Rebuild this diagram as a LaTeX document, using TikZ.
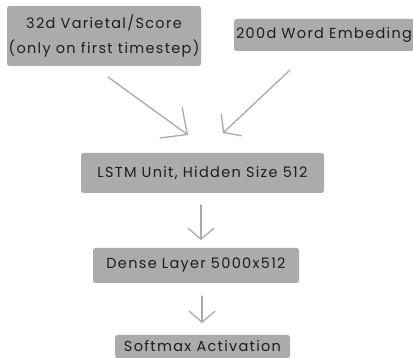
\documentclass[tikz,border=0pt]{standalone}
\usepackage{fontspec}
\setmainfont[LetterSpace=9]{Poppins}
\usetikzlibrary{arrows.meta}
\definecolor{boxgray}{HTML}{ABABAB}
\definecolor{arrowgray}{HTML}{A9A9A9}
\definecolor{textdark}{HTML}{1E1E1E}
\tikzset{
	layer/.style={fill=boxgray, rounded corners=2.5pt, inner sep=0pt, text=textdark, align=center,
		font=\fontsize{14.5}{25}\selectfont},
	flow/.style={draw=arrowgray, line width=1.3pt, line cap=round,
		-{Straight Barb[length=20pt, width=38pt, line width=1.3pt]}},
	flowsmall/.style={flow, -{Straight Barb[length=11pt, width=26pt, line width=1.3pt]}}
}
\begin{document}
\begin{tikzpicture}[x=1pt, y=-1pt]
			%%%%% START %%%%%
			\useasboundingbox (0, 0) rectangle (413, 358);
			
			\node[layer, minimum width=194pt, minimum height=60pt] (score) at (104, 36) {32d Varietal/Score\\(only on first timestep)};
			\node[layer, minimum width=180pt, minimum height=32pt] (embed) at (324, 35) {200d Word Embeding};
			
			\node[layer, minimum width=243pt, minimum height=40pt] (lstm) at (202.5, 173) {LSTM Unit, Hidden Size 512};
			\node[layer, minimum width=206pt, minimum height=35pt] (dense) at (196, 265.5) {Dense Layer 5000x512};
			\node[layer, minimum width=175pt, minimum height=23pt] (softmax) at (202.5, 346.5) {Softmax Activation};
			
			% arrow ends, the arrows stop short of the boxes
			\coordinate (scoreout) at (108, 77);
			\coordinate (scorein) at (188, 135);
			\coordinate (embedout) at (290, 70);
			\coordinate (embedin) at (223, 133);
			\coordinate (lstmout) at (201, 205);
			\coordinate (densein) at (201, 240);
			\coordinate (denseout) at (202, 296);
			\coordinate (softmaxin) at (202, 323);
			
			\draw[flow] (scoreout) -- (scorein);
			\draw[flow, -{Straight Barb[length=11pt, width=30pt, line width=1.3pt]}] (embedout) -- (embedin);
			\draw[flowsmall] (lstmout) -- (densein);
			\draw[flowsmall] (denseout) -- (softmaxin);
			
			%%%%% END %%%%%
		\end{tikzpicture}
\end{document}
